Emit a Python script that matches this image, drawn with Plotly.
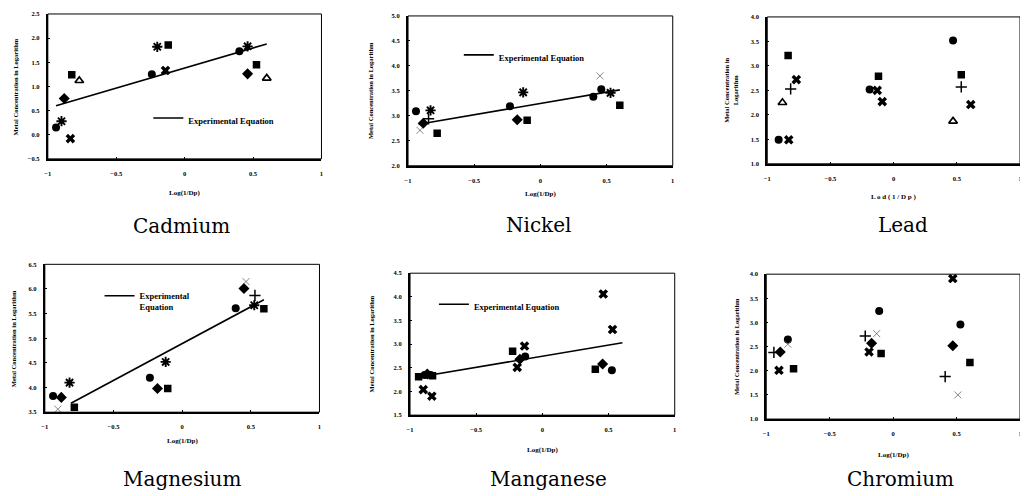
import plotly.graph_objects as go

# The page body adds an 8px margin, so the figure is drawn 8px in from the
# window's top-left corner; all pixel positions below are window positions.
OFF = 8
W, H = 1028 - OFF, 496 - OFF

# ---------------- DATA ----------------
# Cadmium
cd_circle_x = [-0.94, -0.24, 0.40]
cd_circle_y = [0.15, 1.25, 1.73]
cd_star_x = [-0.90, -0.20, 0.46]
cd_star_y = [0.28, 1.82, 1.83]
cd_diamond_x = [-0.88, 0.46]
cd_diamond_y = [0.75, 1.26]
cd_x_x = [-0.835, -0.14]
cd_x_y = [-0.08, 1.33]
cd_square_x = [-0.825, -0.12, 0.525]
cd_square_y = [1.24, 1.86, 1.45]
cd_tri_x = [-0.77, 0.60]
cd_tri_y = [1.12, 1.17]
cd_line_x = [-0.94, 0.60]
cd_line_y = [0.60, 1.88]

# Nickel
ni_circle_x = [-0.94, -0.23, 0.40, 0.46]
ni_circle_y = [3.09, 3.19, 3.38, 3.53]
ni_thinx_x = [-0.91, 0.45]
ni_thinx_y = [2.71, 3.80]
ni_diamond_x = [-0.885, -0.175]
ni_diamond_y = [2.85, 2.92]
ni_plus_x = [-0.845]
ni_plus_y = [2.94]
ni_star_x = [-0.83, -0.13, 0.53]
ni_star_y = [3.11, 3.47, 3.46]
ni_square_x = [-0.78, -0.10, 0.60]
ni_square_y = [2.65, 2.91, 3.21]
ni_line_x = [-0.92, 0.60]
ni_line_y = [2.83, 3.52]

# Lead
pb_circle_x = [-0.91, -0.19, 0.47]
pb_circle_y = [1.49, 2.52, 3.52]
pb_x_x = [-0.83, -0.77, -0.13, -0.09, 0.61]
pb_x_y = [1.49, 2.72, 2.50, 2.27, 2.21]
pb_tri_x = [-0.88, 0.47]
pb_tri_y = [2.25, 1.87]
pb_plus_x = [-0.815, 0.535]
pb_plus_y = [2.53, 2.57]
pb_square_x = [-0.835, -0.12, 0.535]
pb_square_y = [3.21, 2.79, 2.82]

# Magnesium
mg_circle_x = [-0.94, -0.235, 0.39]
mg_circle_y = [3.83, 4.20, 5.61]
mg_diamond_x = [-0.88, -0.18, 0.45]
mg_diamond_y = [3.80, 3.98, 6.01]
mg_thinx_x = [-0.905, 0.465]
mg_thinx_y = [3.56, 6.15]
mg_star_x = [-0.82, -0.12, 0.525]
mg_star_y = [4.10, 4.52, 5.67]
mg_square_x = [-0.785, -0.105, 0.595]
mg_square_y = [3.60, 3.98, 5.60]
mg_plus_x = [0.53]
mg_plus_y = [5.87]
mg_line_x = [-0.81, 0.595]
mg_line_y = [3.68, 5.78]

# Manganese
mn_square_x = [-0.935, -0.83, -0.225, 0.40]
mn_square_y = [2.31, 2.33, 2.85, 2.47]
mn_circle_x = [-0.89, -0.845, -0.13, 0.525]
mn_circle_y = [2.35, 2.35, 2.74, 2.45]
mn_diamond_x = [-0.87, -0.17, 0.455]
mn_diamond_y = [2.37, 2.68, 2.58]
mn_x_x = [-0.90, -0.835, -0.19, -0.135, 0.46, 0.53]
mn_x_y = [2.04, 1.90, 2.51, 2.96, 4.06, 3.31]
mn_line_x = [-0.945, 0.605]
mn_line_y = [2.30, 3.03]

# Chromium
cr_plus_x = [-0.94, -0.22, 0.41]
cr_plus_y = [2.38, 2.72, 1.88]
cr_diamond_x = [-0.89, -0.17, 0.47]
cr_diamond_y = [2.39, 2.57, 2.52]
cr_circle_x = [-0.83, -0.11, 0.53]
cr_circle_y = [2.65, 3.24, 2.96]
cr_x_x = [-0.90, -0.19, 0.47]
cr_x_y = [2.01, 2.39, 3.91]
cr_square_x = [-0.785, -0.095, 0.605]
cr_square_y = [2.04, 2.36, 2.17]
cr_thinx_x = [-0.83, -0.13, 0.51]
cr_thinx_y = [2.55, 2.77, 1.50]

panel_titles = ["Cadmium", "Nickel", "Lead", "Magnesium", "Manganese", "Chromium"]
x_titles = ["Log(1/Dp)", "Log(1/Dp)", "L o d ( 1 / D p )", "Log(1/Dp)", "Log(1/Dp)", "Log(1/Dp)"]
y_titles = ["Metal Concentration in Logarithm", "Metal Concentration in Logarithm",
            "Metal Concentration in<br>Logarithm", "Metal Concentration in Logarithm",
            "Metal Concentration in Logarithm", "Metal Concentration in Logarithm"]
y_ranges = [(-0.5, 2.5), (2.0, 5.0), (1.0, 4.0), (3.5, 6.5), (1.5, 4.5), (1.0, 4.0)]
legend_name_mg = "Experimental<br>Equation"
legend_name = "Experimental Equation"

# ---------------- LAYOUT GEOMETRY (window pixels) ----------------
# x0, x1, ytop, ybottom
boxes = [
    (45, 320, 10, 157),
    (407, 673, 12, 164),
    (768, 1022, 13, 162),
    (42, 318, 264, 414),
    (409, 675, 273, 417),
    (767, 1022, 274, 421),
]
xtitle_y = [192, 193, 196, 443, 452, 457]
ytitle_x = [12, 370, 731, 10, 370, 737]
title_pos = [(179, 225), (538, 224), (904, 224), (180, 482), (548, 482), (902, 482)]

SERIF = "Liberation Serif"
CAPTION_FONT = "DejaVu Serif"
tick_font = dict(family=SERIF, size=6.5, color="black", weight="bold")

fig = go.Figure()


def px(x):
    return (x - OFF) / W


def py(y):
    return 1 - (y - OFF) / H


def add_markers(i, xs, ys, symbol, size, lw=0, color="black"):
    ax = "" if i == 0 else str(i + 1)
    fig.add_trace(go.Scatter(
        x=xs, y=ys, mode="markers", xaxis="x" + ax, yaxis="y" + ax,
        showlegend=False, hoverinfo="skip",
        marker=dict(symbol=symbol, size=size, color=color,
                    line=dict(width=lw, color=color)),
    ))


def add_line(i, xs, ys, name, legend):
    ax = "" if i == 0 else str(i + 1)
    fig.add_trace(go.Scatter(
        x=xs, y=ys, mode="lines", xaxis="x" + ax, yaxis="y" + ax,
        name=name, legend=legend, showlegend=True, hoverinfo="skip",
        line=dict(color="black", width=1.6),
    ))


CIRCLE = ("circle", 8, 0)
SQUARE = ("square", 7.5, 0)
DIAMOND = ("diamond", 8.5, 0)
BIGX = ("x", 8.5, 0)
TRI = ("triangle-up-open", 7.5, 1.7)
PLUS = ("cross-thin-open", 8, 1.5)
STAR = ("asterisk-open", 8.5, 1.9)
THINX = ("x-thin-open", 7, 0.7)


def mk(i, xs, ys, spec, color="black"):
    add_markers(i, xs, ys, spec[0], spec[1], spec[2], color)


# Cadmium
add_line(0, cd_line_x, cd_line_y, legend_name, "legend")
mk(0, cd_circle_x, cd_circle_y, CIRCLE)
mk(0, cd_star_x, cd_star_y, STAR)
mk(0, cd_diamond_x, cd_diamond_y, DIAMOND)
mk(0, cd_x_x, cd_x_y, BIGX)
mk(0, cd_square_x, cd_square_y, SQUARE)
mk(0, cd_tri_x, cd_tri_y, TRI)

# Nickel
add_line(1, ni_line_x, ni_line_y, legend_name, "legend2")
mk(1, ni_circle_x, ni_circle_y, CIRCLE)
mk(1, ni_thinx_x, ni_thinx_y, THINX, "#555555")
mk(1, ni_diamond_x, ni_diamond_y, DIAMOND)
mk(1, ni_plus_x, ni_plus_y, PLUS)
mk(1, ni_star_x, ni_star_y, STAR)
mk(1, ni_square_x, ni_square_y, SQUARE)

# Lead
mk(2, pb_circle_x, pb_circle_y, CIRCLE)
mk(2, pb_x_x, pb_x_y, BIGX)
mk(2, pb_tri_x, pb_tri_y, TRI)
mk(2, pb_plus_x, pb_plus_y, PLUS)
mk(2, pb_square_x, pb_square_y, SQUARE)

# Magnesium
add_line(3, mg_line_x, mg_line_y, legend_name_mg, "legend3")
mk(3, mg_circle_x, mg_circle_y, CIRCLE)
mk(3, mg_diamond_x, mg_diamond_y, DIAMOND)
mk(3, mg_thinx_x, mg_thinx_y, THINX, "#555555")
mk(3, mg_star_x, mg_star_y, STAR)
mk(3, mg_square_x, mg_square_y, SQUARE)
mk(3, mg_plus_x, mg_plus_y, PLUS)

# Manganese
add_line(4, mn_line_x, mn_line_y, legend_name, "legend4")
mk(4, mn_square_x, mn_square_y, SQUARE)
mk(4, mn_circle_x, mn_circle_y, CIRCLE)
mk(4, mn_diamond_x, mn_diamond_y, DIAMOND)
mk(4, mn_x_x, mn_x_y, BIGX)

# Chromium
mk(5, cr_plus_x, cr_plus_y, PLUS)
mk(5, cr_diamond_x, cr_diamond_y, DIAMOND)
mk(5, cr_circle_x, cr_circle_y, CIRCLE)
mk(5, cr_x_x, cr_x_y, BIGX)
mk(5, cr_square_x, cr_square_y, SQUARE)
mk(5, cr_thinx_x, cr_thinx_y, THINX, "#555555")

layout = dict(
    width=W, height=H,
    margin=dict(l=0, r=0, t=0, b=0),
    paper_bgcolor="white", plot_bgcolor="white",
    font=dict(family=SERIF, color="black"),
    annotations=[], shapes=[],
)

for i, (x0, x1, yt, yb) in enumerate(boxes):
    sfx = "" if i == 0 else str(i + 1)
    layout["xaxis" + sfx] = dict(
        domain=[px(x0), px(x1)], anchor="y" + sfx, range=[-1, 1], dtick=0.5,
        tick0=-1, showline=True, linecolor="black", linewidth=2, mirror=False,
        ticks="inside", ticklen=2, tickcolor="black", showgrid=False, zeroline=False,
        tickfont=tick_font, ticklabelstandoff=7, fixedrange=True,
    )
    lo, hi = y_ranges[i]
    layout["yaxis" + sfx] = dict(
        domain=[py(yb), py(yt)], anchor="x" + sfx, range=[lo, hi], dtick=0.5,
        tick0=lo, showline=True, linecolor="black", linewidth=2, mirror=False,
        ticks="inside", ticklen=2, tickcolor="black", showgrid=False, zeroline=False,
        tickfont=tick_font, ticklabelstandoff=5, tickformat=".1f", fixedrange=True,
    )
    # thinner frame on the top / right sides
    layout["shapes"].append(dict(
        type="rect", xref="x%s domain" % sfx, yref="y%s domain" % sfx,
        x0=0, x1=1, y0=0, y1=1, line=dict(color="black", width=1), layer="above",
    ))
    # x axis title
    layout["annotations"].append(dict(
        x=px((x0 + x1) / 2), y=py(xtitle_y[i]), xref="paper", yref="paper",
        xanchor="center", yanchor="middle",
        text="<b>%s</b>" % x_titles[i], showarrow=False,
        font=dict(family=SERIF, size=7, color="black"),
    ))
    # y axis title
    layout["annotations"].append(dict(
        x=px(ytitle_x[i]), y=py((yt + yb) / 2), xref="paper", yref="paper",
        xanchor="center", yanchor="middle",
        text="<b>%s</b>" % y_titles[i], showarrow=False, textangle=-90,
        font=dict(family=SERIF, size=6.5, color="black"),
    ))
    # panel caption
    tx, ty = title_pos[i]
    layout["annotations"].append(dict(
        x=px(tx), y=py(ty), xref="paper", yref="paper",
        xanchor="center", yanchor="middle",
        text=panel_titles[i], showarrow=False,
        font=dict(family=CAPTION_FONT, size=20, color="black"),
    ))

leg_common = dict(
    bgcolor="rgba(0,0,0,0)", borderwidth=0, xanchor="left", yanchor="middle",
    font=dict(family=SERIF, size=8.5, color="black", weight="bold"),
    itemwidth=30, tracegroupgap=0, valign="top",
)
layout["legend"] = dict(x=px(146), y=py(118), **leg_common)
layout["legend2"] = dict(x=px(458), y=py(54), **leg_common)
layout["legend3"] = dict(x=px(97), y=py(302), **leg_common)
layout["legend4"] = dict(x=px(433), y=py(307), **leg_common)

fig.update_layout(**layout)
fig.write_html("out.html")
